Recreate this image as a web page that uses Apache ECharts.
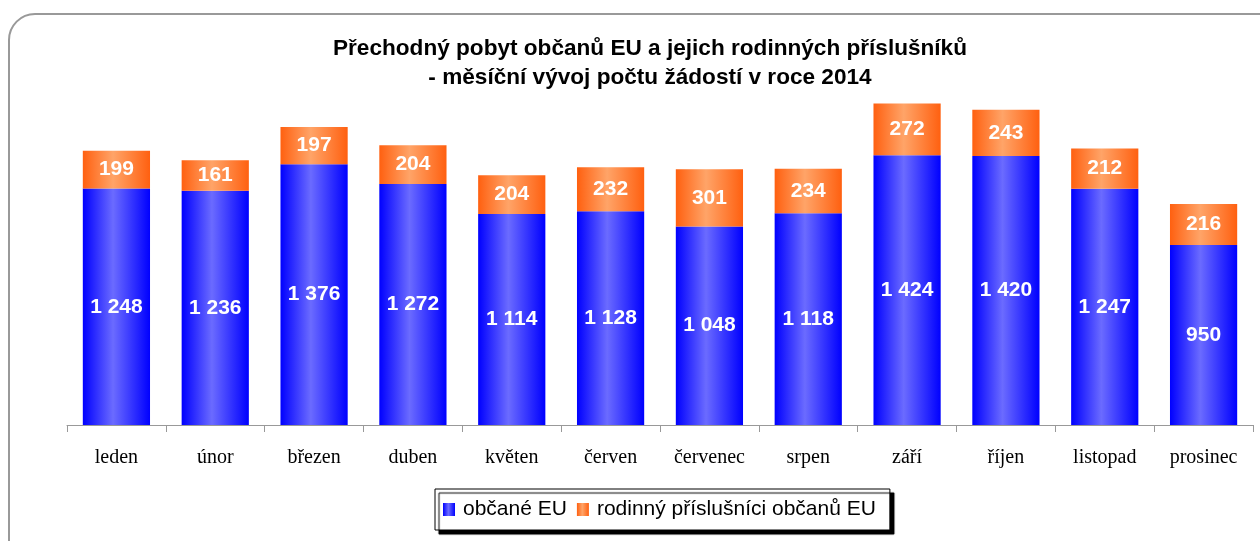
<!DOCTYPE html>
<html>
<head>
<meta charset="utf-8">
<script src="https://cdn.jsdelivr.net/npm/echarts@6/dist/echarts.min.js"></script>
<style>
  html, body { margin: 0; padding: 0; background: #fff; }
  #chart { width: 1260px; height: 541px; }
</style>
</head>
<body>
<div id="chart"></div>
<script>
const months = ["leden", "únor", "březen", "duben", "květen", "červen", "červenec", "srpen", "září", "říjen", "listopad", "prosinec"];
const citizens = [1248, 1236, 1376, 1272, 1114, 1128, 1048, 1118, 1424, 1420, 1247, 950];
const family = [199, 161, 197, 204, 204, 232, 301, 234, 272, 243, 212, 216];

// mezera jako oddělovač tisíců
function fmt(v) {
  return String(v).replace(/\B(?=(\d{3})+(?!\d))/g, " ");
}

function hGrad(edge, mid) {
  return new echarts.graphic.LinearGradient(0, 0, 1, 0, [
    { offset: 0, color: edge },
    { offset: 0.45, color: mid },
    { offset: 1, color: edge }
  ]);
}

const chart = echarts.init(document.getElementById("chart"));
const labelStyle = {
  show: true,
  position: "inside",
  color: "#fff",
  fontFamily: "Liberation Sans, Arial, sans-serif",
  fontWeight: "bold",
  fontSize: 21,
  formatter: p => fmt(p.value)
};

chart.setOption({
  animation: false,
  title: {
    text: "Přechodný pobyt občanů EU a jejich rodinných příslušníků\n- měsíční vývoj počtu žádostí v roce 2014",
    left: 645,
    textAlign: "center",
    top: 29,
    textStyle: {
      fontFamily: "Liberation Sans, Arial, sans-serif",
      fontWeight: "bold",
      fontSize: 22.6,
      lineHeight: 29,
      color: "#000"
    }
  },
  graphic: [{
    type: "rect",
    shape: { x: 9, y: 14, width: 1280, height: 560, r: 26 },
    style: { fill: "none", stroke: "#999", lineWidth: 2 },
    z: -1
  }],
  legend: {
    left: 435,
    top: 489,
    padding: [9, 14, 9, 8],
    icon: "rect",
    itemWidth: 12,
    itemHeight: 13,
    itemGap: 10,
    backgroundColor: "#fff",
    borderColor: "#000",
    borderWidth: 1,
    borderRadius: 0,
    shadowColor: "#000",
    shadowBlur: 1,
    shadowOffsetX: 4,
    shadowOffsetY: 4,
    textStyle: {
      fontFamily: "Liberation Sans, Arial, sans-serif",
      fontSize: 21,
      lineHeight: 23,
      padding: [0, 0, 0, 3],
      color: "#000"
    },
    data: ["občané EU", "rodinný příslušníci občanů EU"]
  },
  grid: { left: 67, right: 7, top: 46, bottom: 116 },
  xAxis: {
    type: "category",
    data: months,
    axisLine: { lineStyle: { color: "#999", width: 1 } },
    axisTick: { show: true, length: 7, lineStyle: { color: "#999" } },
    axisLabel: {
      margin: 23,
      fontFamily: "Liberation Serif, Times New Roman, serif",
      fontSize: 20,
      color: "#000"
    }
  },
  yAxis: {
    type: "value",
    min: 0,
    max: 2000,
    show: false,
    splitLine: { show: false }
  },
  series: [
    {
      name: "občané EU",
      type: "bar",
      stack: "total",
      barWidth: "68%",
      data: citizens,
      itemStyle: { color: hGrad("#0000ff", "#6b6bff") },
      label: labelStyle
    },
    {
      name: "rodinný příslušníci občanů EU",
      type: "bar",
      stack: "total",
      barWidth: "68%",
      data: family,
      itemStyle: { color: hGrad("#ff6010", "#ffa468") },
      label: labelStyle
    }
  ]
});
</script>
</body>
</html>
